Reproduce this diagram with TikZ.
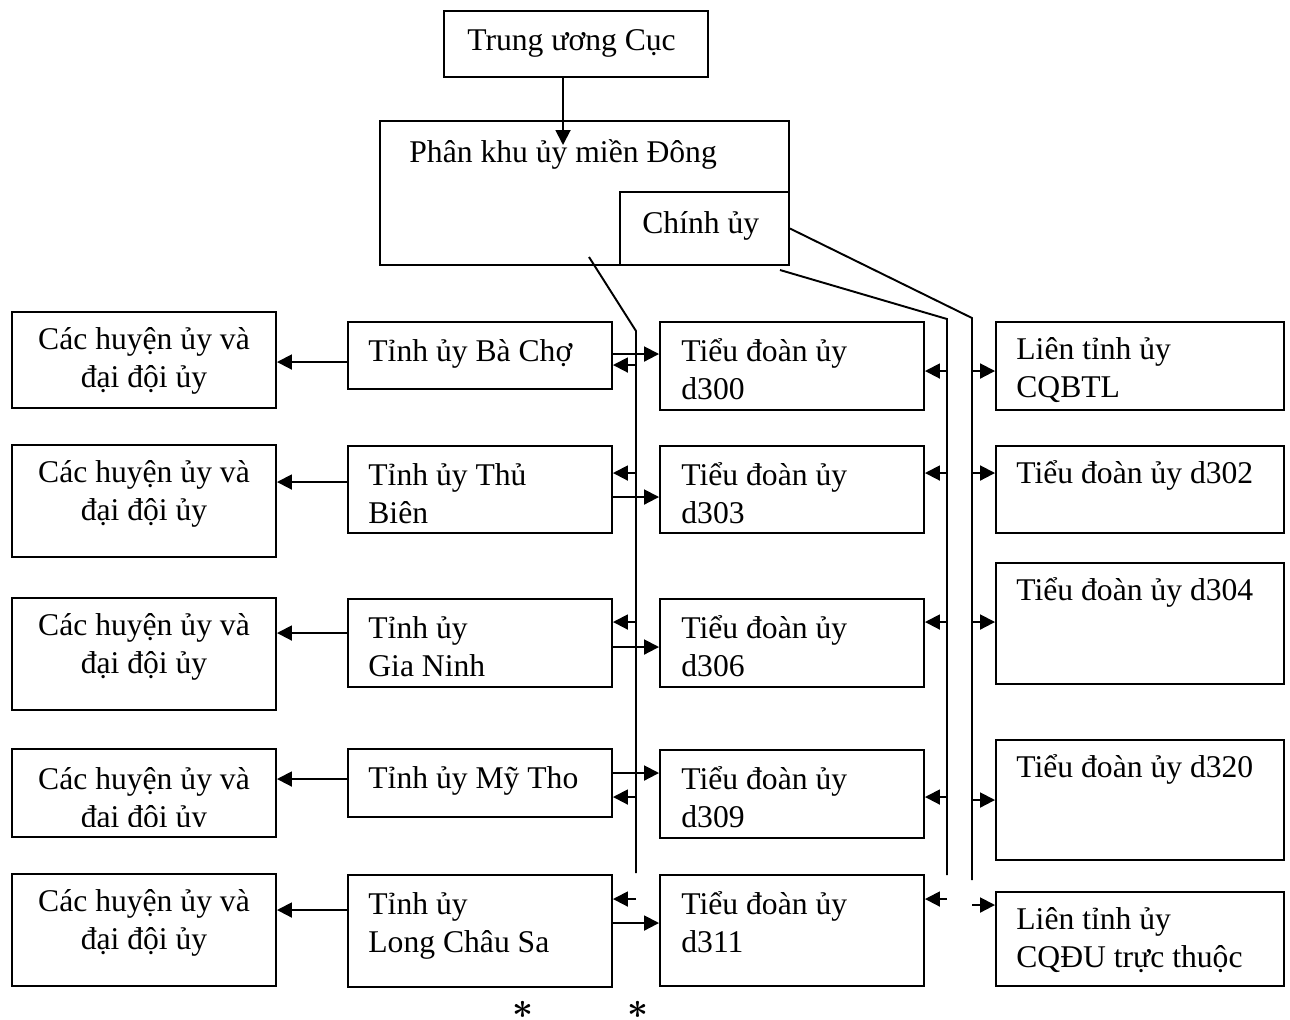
\documentclass[tikz,border=0pt]{standalone}
\usepackage{fontspec}
\setmainfont{Liberation Serif}
\usetikzlibrary{arrows.meta, fit}

\newcommand{\ts}{\rule{0pt}{20pt}}

\tikzset{
  box/.style={draw, line width=1.1pt, inner sep=0pt},
  txt/.style={inner sep=0pt, align=left, anchor=north west, yshift=20pt,
    font=\fontsize{18}{21.5}\selectfont},
  ctxt/.style={txt, align=center, anchor=north},
  conn/.style={line width=1.1pt},
  arr/.style={conn, -{Triangle[length=0.3cm, width=0.3cm]}},
  mark star/.style={inner sep=0pt, font=\fontsize{22}{24}\selectfont\boldmath},
}

\begin{document}
\begin{tikzpicture}[x=0.02cm, y=-0.02cm]
  \useasboundingbox (0,0) rectangle (1290,1019);

  % top
  \node[box, fit={(444,11) (708,77)}] (tw) {};
  \node[txt] (twt) at (467,50) {\ts Trung ương Cục};
  \node[box, fit={(380,121) (789,265)}] (pk) {};
  \node[txt] (pkt) at (409,162) {\ts Phân khu ủy miền Đông};
  \node[box, fit={(620,192) (789,265)}] (cu) {};
  \node[txt] (cut) at (642,233) {\ts Chính ủy};
  \coordinate (pkin) at (563,145);
  \draw[arr] (tw.south -| pkin) -- (pkin);

  % bus lines
  \coordinate (pkout) at (589,257);
  \coordinate (cuout) at (780,270);
  \coordinate (v1top) at (636,331);
  \coordinate (v1bot) at (636,873);
  \coordinate (v2top) at (947,319);
  \coordinate (v2bot) at (947,875);
  \coordinate (v3top) at (972,318);
  \coordinate (v3bot) at (972,880);
  \draw[conn] (pkout) -- (v1top) -- (v1bot);
  \draw[conn] (cuout) -- (v2top) -- (v2bot);
  \draw[conn] (cu.east) -- (v3top) -- (v3bot);

  % columns
  \foreach \i/\ya/\yb in {1/312/408, 2/445/557, 3/598/710, 4/749/837, 5/874/986}
    \node[box, fit={(12,\ya) (276,\yb)}] (huyen\i) {};
  \foreach \i in {1,2,3,5}
    \node[ctxt] (huyen\i t) at ([shift={(0,38)}]huyen\i.north) {\ts Các huyện ủy và\\đại đội ủy};
  \begin{scope}
    \clip (12,749) rectangle (276,826);
    \node[ctxt] (huyen4t) at ([shift={(0,41)}]huyen4.north) {\ts Các huyện ủy và\\đại đội ủy};
  \end{scope}

  \foreach \i/\ya/\yb/\lbl in {1/322/389/{Tỉnh ủy Bà Chợ}, 2/446/533/{Tỉnh ủy Thủ\\Biên},
      3/599/687/{Tỉnh ủy\\Gia Ninh}, 4/749/817/{Tỉnh ủy Mỹ Tho}, 5/875/987/{Tỉnh ủy\\Long Châu Sa}} {
    \node[box, fit={(348,\ya) (612,\yb)}] (tinh\i) {};
    \node[txt] (tinh\i t) at ([shift={(21,40)}]tinh\i.north west) {\ts\lbl};
  }

  \foreach \i/\ya/\yb/\lbl in {1/322/410/d300, 2/446/533/d303, 3/599/687/d306,
      4/750/838/d309, 5/875/986/d311} {
    \node[box, fit={(660,\ya) (924,\yb)}] (td\i) {};
    \node[txt] (td\i t) at ([shift={(22,40)}]td\i.north west) {\ts Tiểu đoàn ủy\\\lbl};
  }

  \foreach \i/\ya/\yb/\lbl in {1/322/410/{Liên tỉnh ủy\\CQBTL}, 2/446/533/{Tiểu đoàn ủy d302},
      3/563/684/{Tiểu đoàn ủy d304}, 4/740/860/{Tiểu đoàn ủy d320},
      5/892/986/{Liên tỉnh ủy\\CQĐU trực thuộc}} {
    \node[box, fit={(996,\ya) (1284,\yb)}] (lt\i) {};
    \node[txt] (lt\i t) at ([shift={(21,38)}]lt\i.north west) {\ts\lbl};
  }

  % arrows
  \foreach \i/\y in {1/362, 2/482, 3/633, 4/779, 5/910}
    \draw[arr] (tinh\i.west |- 0,\y) -- (huyen\i.east |- 0,\y);
  \foreach \i/\y in {1/354, 2/497, 3/647, 4/773, 5/923}
    \draw[arr] (tinh\i.east |- 0,\y) -- (td\i.west |- 0,\y);
  \foreach \i/\y in {1/365, 2/473, 3/622, 4/797, 5/899}
    \draw[arr] (v1top |- 0,\y) -- (tinh\i.east |- 0,\y);
  \foreach \i/\y in {1/371, 2/473, 3/622, 4/797, 5/899}
    \draw[arr] (v2top |- 0,\y) -- (td\i.east |- 0,\y);
  \foreach \i/\y in {1/371, 2/473, 3/622, 4/800, 5/905}
    \draw[arr] (v3top |- 0,\y) -- (lt\i.west |- 0,\y);

  % stars
  \node[mark star] (star1) at (523,1010) {$\ast$};
  \node[mark star] (star2) at (638,1010) {$\ast$};
\end{tikzpicture}
\end{document}
